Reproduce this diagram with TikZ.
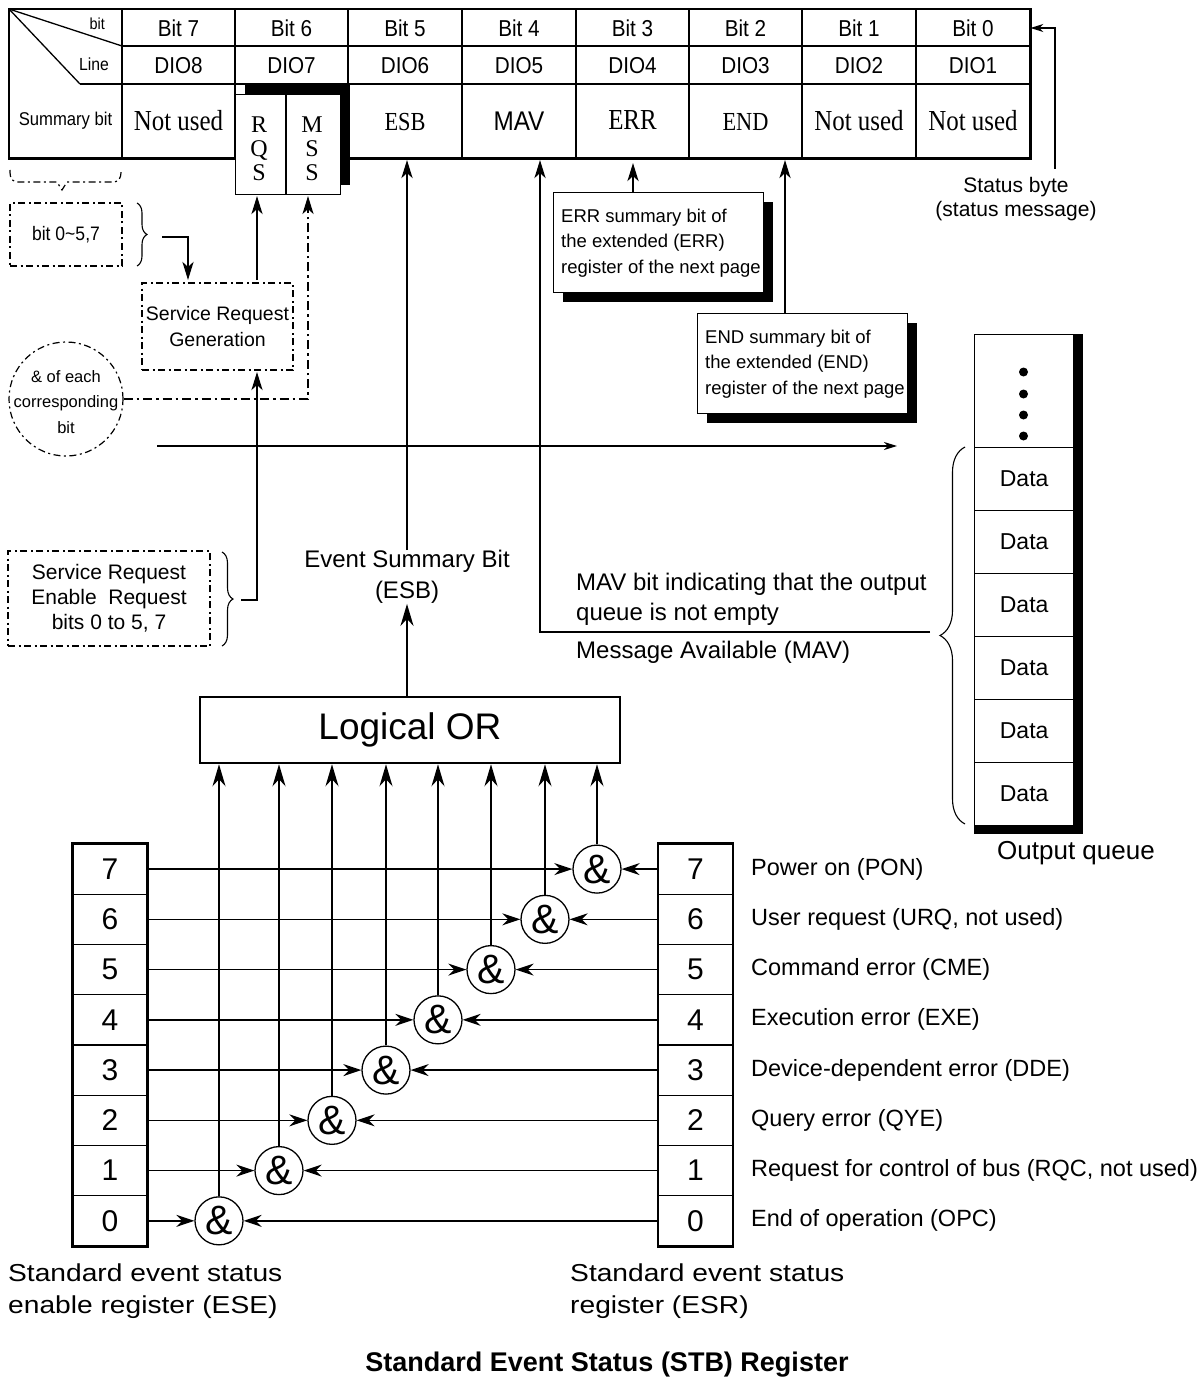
\documentclass[tikz,border=0pt]{standalone}
\usepackage{fontspec}
\setmainfont{Liberation Sans}
\newfontfamily\condsans[FakeStretch=0.9]{Liberation Sans}
\newfontfamily\widesans[FakeStretch=1.15]{Liberation Sans}
\newfontfamily\condserif[FakeStretch=0.86]{Liberation Serif}
\newfontfamily\plainserif{Liberation Serif}
\usetikzlibrary{arrows.meta,decorations.pathreplacing}
\newcommand\fsz[2]{\fontsize{#1}{#2}\selectfont}
\begin{document}
\begin{tikzpicture}[x=1pt,y=-1pt,
  thickln/.style={line width=2.6pt},
  thinln/.style={line width=1.3pt},
  ddash/.style={dash pattern=on 7pt off 3.5pt on 2pt off 3.5pt, line width=1.2pt},
  bigarr/.style={-{Stealth[length=22pt,width=13pt,inset=7pt]}},
  medarr/.style={-{Stealth[length=18pt,width=11pt,inset=5pt]}},
  regarr/.style={-{Stealth[length=18pt,width=12pt,inset=6pt]}},
  smallarr/.style={-{Stealth[length=13pt,width=8pt,inset=4pt]}},
  tabtxt/.style={font=\condsans\fsz{23}{26}, inner sep=0pt},
  sertxt/.style={font=\condserif\fsz{29}{32}, inner sep=0pt},
  box/.style={draw, thinln, fill=white, inner sep=0pt, anchor=north west},
  ddbox/.style={draw, ddash, inner sep=0pt},
  bracedec/.style={line width=1.1pt, decorate, decoration={brace, amplitude=#1}},
  regcell/.style={draw, thinln, minimum width=74pt, minimum height=50.25pt, inner sep=0pt, font=\fsz{30}{32}},
  andnode/.style={draw, thinln, circle, minimum size=48pt, inner sep=0pt, fill=white, font=\fsz{41}{42}},
  lbl/.style={font=\fsz{23.5}{26}, inner sep=0pt},
  txt/.style={inner sep=0pt, align=center},
]
\useasboundingbox (0,0) rectangle (1199,1380);

% ---------------- status byte table ----------------
\node[inner sep=0pt, minimum width=1021pt, minimum height=149pt, anchor=north west] (tbl) at (9,9) {};
\foreach \x in {122,235,348,462,576,689,802,916} \draw[thinln] (\x,9) -- (\x,158);
\draw[thinln] (122,46) -- (1030,46);
\draw[thinln] (80,84) -- (1030,84);
\draw[thinln] (9,9) -- (122,46);
\draw[thinln] (9,9) -- (80,84);
\draw[line width=2.4pt] (tbl.north west) rectangle (tbl.south east);

\foreach \cx/\b/\d in {178.5/7/8, 291.5/6/7, 405/5/6, 519/4/5, 632.5/3/4, 745.5/2/3, 859/1/2, 973/0/1}{
  \node[tabtxt] (bit\b) at (\cx,28) {Bit \b};
  \node[tabtxt] (dio\d) at (\cx,66) {DIO\d};
}
\node[font=\condsans\fsz{16}{18}, inner sep=0pt, anchor=east] (bitlbl) at (105,24) {bit};
\node[font=\condsans\fsz{17.5}{20}, inner sep=0pt, anchor=east] (linelbl) at (109,64) {Line};
\node[font=\condsans\fsz{18.5}{20}, inner sep=0pt] (sumbit) at (65.5,121) {Summary bit};

\node[sertxt] (nu7) at (178.5,121) {Not used};
\node[sertxt, font=\condserif\fsz{26}{28}] (esb) at (405,122) {ESB};
\node[font=\condsans\fsz{27}{30}, inner sep=0pt] (mav) at (519,121) {MAV};
\node[sertxt] (err) at (632.5,120) {ERR};
\node[sertxt, font=\condserif\fsz{26}{28}] (end) at (745.5,122) {END};
\node[sertxt] (nu1) at (859,121) {Not used};
\node[sertxt] (nu0) at (973,121) {Not used};

% RQS / MSS box with shadow
\fill (245,84) rectangle (350,185);
\node[box, minimum width=105pt, minimum height=100pt] (rqsbox) at (235,94) {};
\draw[thinln] (286,94) -- (286,194);
\node[txt, font=\plainserif\fsz{24}{24}] (rqs) at (259,149) {R\\Q\\S};
\node[txt, font=\plainserif\fsz{24}{24}] (mss) at (312,149) {M\\S\\S};

% status byte label
\node[txt, font=\fsz{21}{24}] (stattxt) at (1016,199) {Status byte\\(status message)};
\coordinate (statc) at (1055,169);
\draw[thinln, smallarr] (statc) |- (tbl.east |- bit0);

% ---------------- left service request part ----------------
\draw[ddash] (10,170) .. controls (10,180) and (12,182) .. (20,182) -- (57,182) -- (62,190) -- (67,182) -- (111,182) .. controls (119,182) and (121,180) .. (121,170);
\node[ddbox, minimum width=112pt, minimum height=63pt, font=\condsans\fsz{19.5}{22}] (bitsbox) at (66,234.5) {bit 0\textasciitilde5,7};
\draw[bracedec=10pt] (137,203) -- (137,266);

\node[ddbox, minimum width=151pt, minimum height=87pt, align=center, font=\fsz{19.5}{26}] (srg) at (217.5,326.5) {Service Request\\Generation};
\coordinate (brt) at (162,237);
\coordinate (srgtopin) at (188,280);
\draw[thickln, medarr] (brt) -| (srgtopin);

\coordinate (srgout) at (257,280);
\coordinate (rqsin) at (257,196);
\draw[thickln, medarr] (srgout) -- (rqsin);

\node[draw, ddash, circle, minimum size=114pt, inner sep=0pt] (andc) at (66,399) {};
\node[txt, font=\fsz{16.5}{25.5}] (andtxt) at (66,402) {\& of each\\corresponding\\bit};
\coordinate (mssin) at (308,196);
\draw[dash pattern=on 9pt off 4pt on 2.5pt off 4pt, line width=2.4pt, medarr] (andc.east) -| (mssin);

\node[ddbox, minimum width=202pt, minimum height=95pt, align=center, font=\fsz{21}{25}] (srebox) at (109,598.5) {Service Request\\Enable\ \ Request\\bits 0 to 5, 7};
\draw[bracedec=11pt] (222,552) -- (222,646);
\coordinate (serbr) at (241,600);
\coordinate (srgin) at (257,372);
\draw[thickln, medarr] (serbr) -| (srgin);

% horizontal line
\coordinate (hl1) at (157,446);
\coordinate (hl2) at (897,446);
\draw[thinln, smallarr] (hl1) -- (hl2);

% ---------------- ERR / END boxes ----------------
\fill (563,202) rectangle (773,302);
\node[box, minimum width=210pt, minimum height=100pt] (errbox) at (553,192) {};
\node[anchor=west, align=left, inner sep=0pt, font=\fsz{18.5}{25.5}] (errtxt) at (561,243) {ERR summary bit of\\the extended (ERR)\\register of the next page};
\coordinate (errtop) at (633,163);
\draw[thickln, medarr] (errbox.north -| errtop) -- (errtop);

\fill (707,323) rectangle (917,423);
\node[box, minimum width=210pt, minimum height=100pt] (endbox) at (697,313) {};
\node[anchor=west, align=left, inner sep=0pt, font=\fsz{18.5}{25.5}] (endtxt) at (705,364) {END summary bit of\\the extended (END)\\register of the next page};
\coordinate (endtop) at (785,160);
\draw[thickln, medarr] (endbox.north -| endtop) -- (endtop);

% ---------------- ESB / MAV ----------------
\node[draw, line width=2.5pt, minimum width=420pt, minimum height=66pt, inner sep=0pt, font=\fsz{37}{40}] (lor) at (410,730) {Logical OR};
\node[txt, font=\fsz{24}{31}] (esbtxt) at (407,577) {Event Summary Bit\\(ESB)};
\coordinate (esbtop) at (407,160);
\draw[thickln, medarr] (esbtxt.north) -- (esbtop);
\draw[thickln, bigarr] (lor.north -| esbtxt) -- (esbtxt.south);

\coordinate (mavend) at (930,632);
\coordinate (mavtop) at (540,160);
\draw[thickln, medarr] (mavend) -| (mavtop);
\node[anchor=west, align=left, inner sep=0pt, font=\fsz{24}{30}] (mavtxt) at (576,599) {MAV bit indicating that the output\\queue is not empty};
\node[anchor=west, inner sep=0pt, font=\fsz{24}{30}] (mavname) at (576,652) {Message Available (MAV)};

% ---------------- output queue ----------------
\fill (974,334) rectangle (1083,834);
\node[box, minimum width=99pt, minimum height=113pt] (qtop) at (974,334) {};
\foreach \yy in {372,394,415,436} \fill (1023.5,\yy) circle (4.5pt);
\foreach \i in {1,...,6}
  \node[box, minimum width=99pt, minimum height=63pt, font=\fsz{23}{26}] (q\i) at (974,{447+63*(\i-1)}) {Data};
\draw[bracedec=25pt] (965,824) -- (965,447);
\node[txt, font=\fsz{26}{30}] (oqlbl) at (1076,853) {Output queue};

% ---------------- registers ----------------
\foreach \b/\cx/\lab in {7/597/{Power on (PON)}, 6/545/{User request (URQ, not used)}, 5/491/{Command error (CME)}, 4/438/{Execution error (EXE)}, 3/386/{Device-dependent error (DDE)}, 2/332/{Query error (QYE)}, 1/279/{Request for control of bus (RQC, not used)}, 0/219/{End of operation (OPC)}}{
  \pgfmathsetmacro\yy{869.1+(7-\b)*50.25}
  \node[regcell] (ese\b) at (110,\yy) {\b};
  \node[regcell] (esr\b) at (695.5,\yy) {\b};
  \node[andnode] (and\b) at (\cx,\yy) {\&};
  \node[lbl, anchor=west] (lab\b) at (751,\yy) {\lab};
  \draw[thinln, regarr] (ese\b.east) -- (and\b.west);
  \draw[thinln, regarr] (esr\b.west) -- (and\b.east);
  \draw[thinln, bigarr] (and\b.north) -- (lor.south -| and\b);
}
\draw[line width=2.5pt] (ese0.south west) rectangle (ese7.north east);
\draw[line width=2.5pt] (esr0.south west) rectangle (esr7.north east);

% ---------------- captions ----------------
\node[anchor=west, align=left, inner sep=0pt, font=\widesans\fsz{24.5}{32}] (esecap) at (8,1291) {Standard event status\\enable register (ESE)};
\node[anchor=west, align=left, inner sep=0pt, font=\widesans\fsz{24.5}{32}] (esrcap) at (570,1291) {Standard event status\\register (ESR)};
\node[inner sep=0pt, font=\bfseries\fsz{27}{30}] (title) at (607,1365) {Standard Event Status (STB) Register};
\end{tikzpicture}
\end{document}
